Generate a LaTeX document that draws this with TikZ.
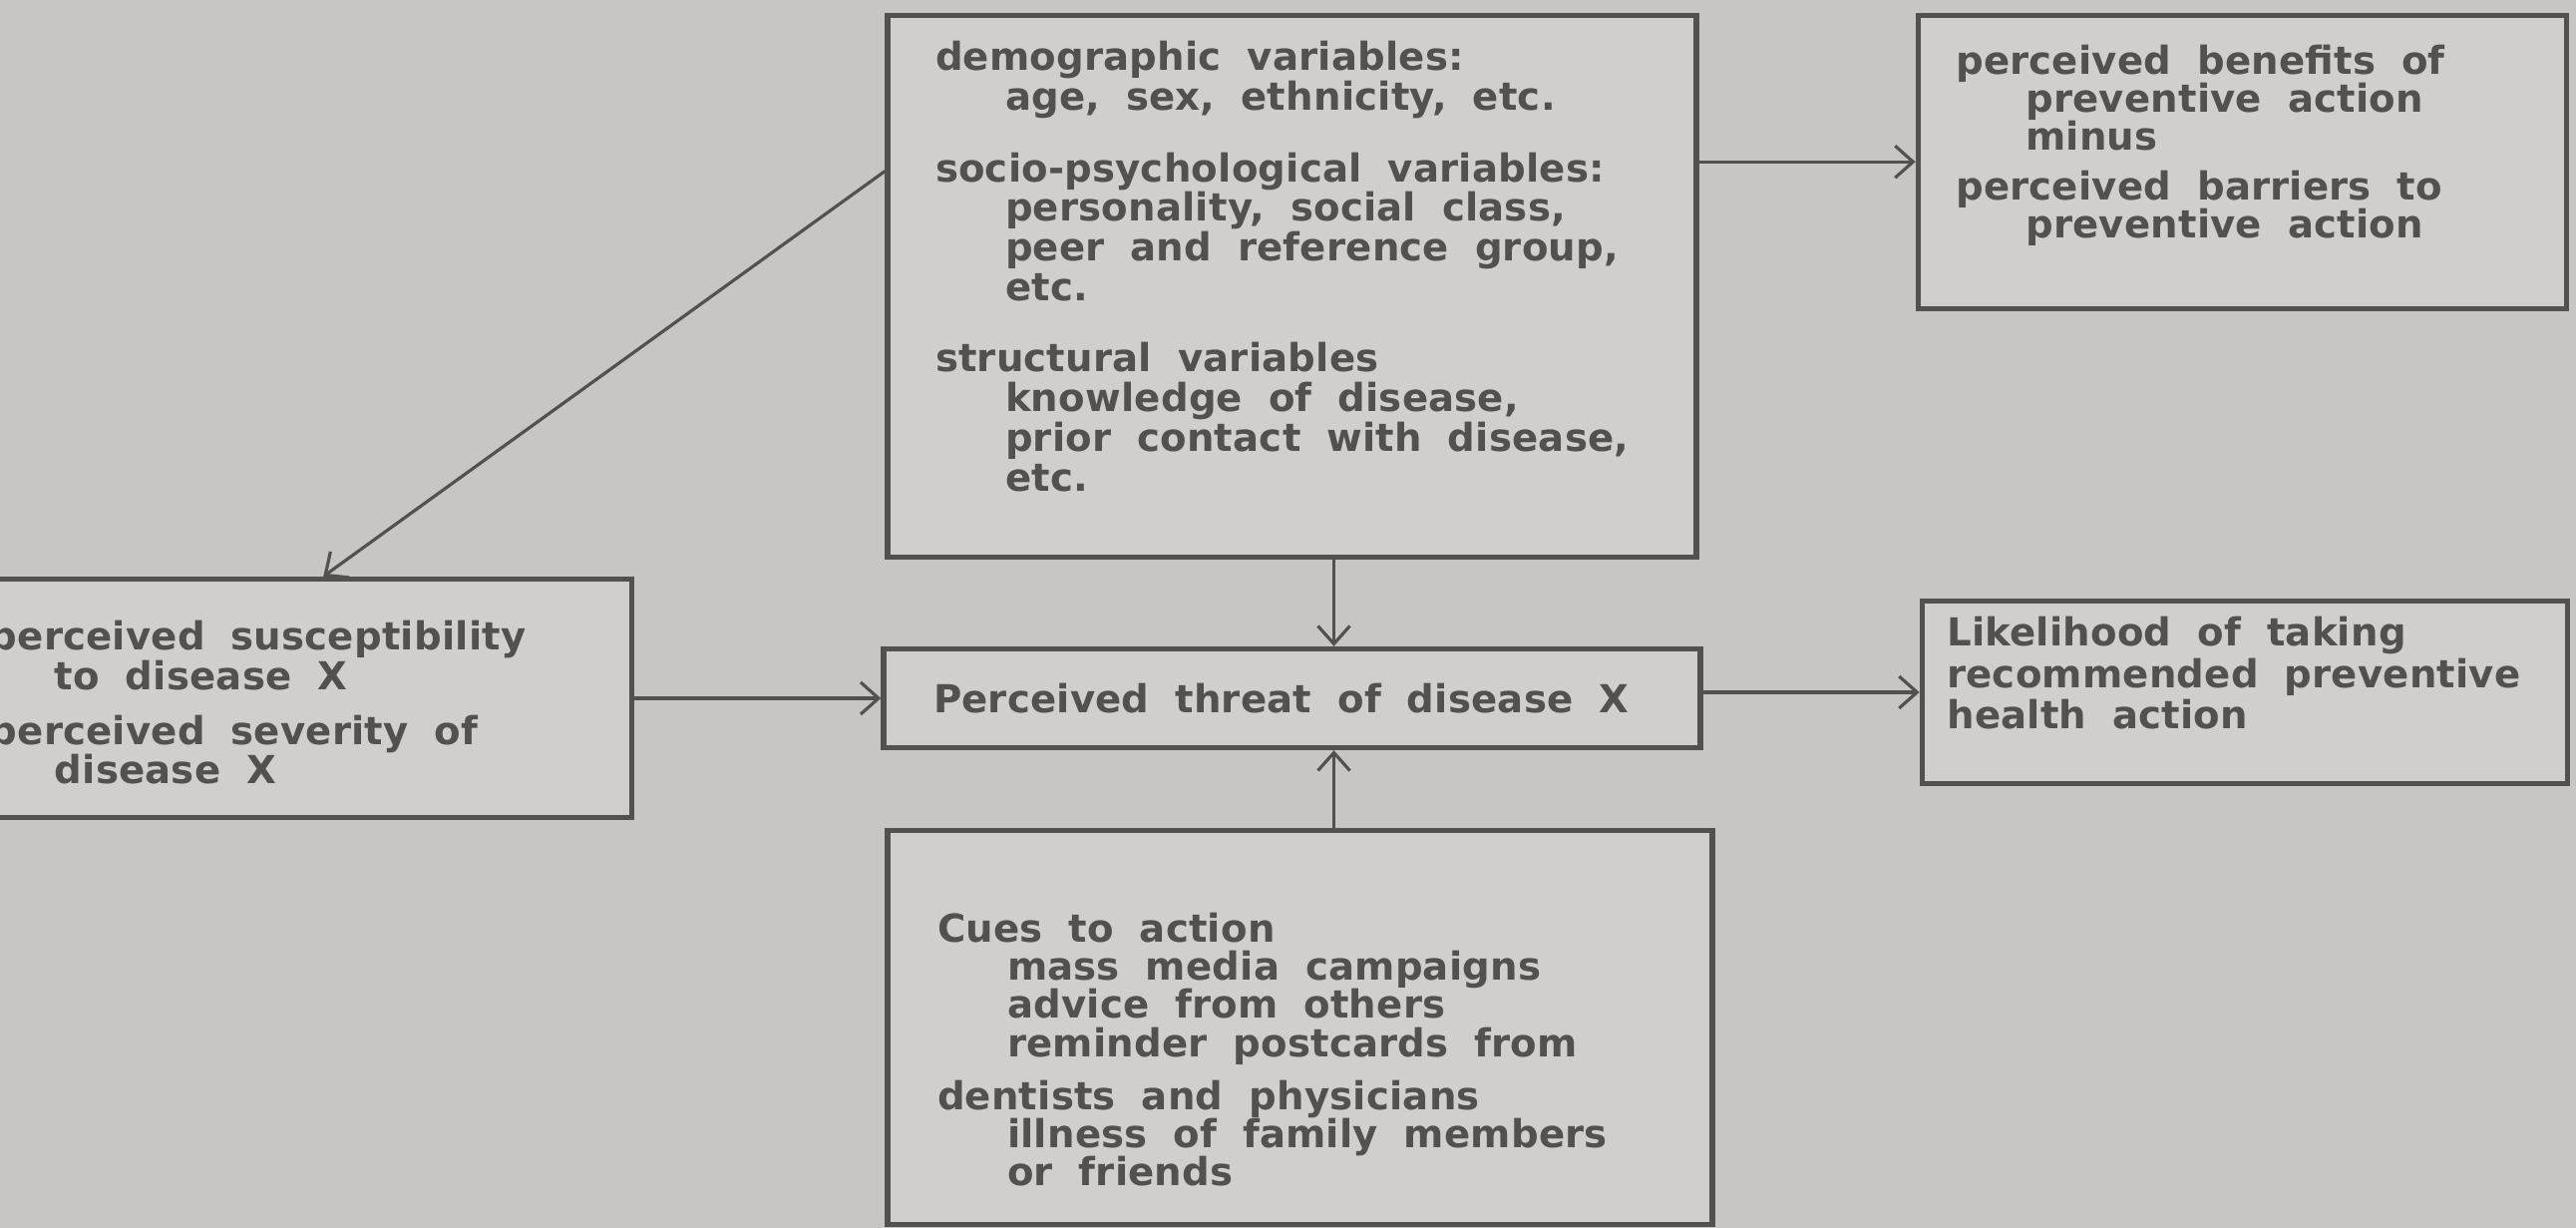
\documentclass[tikz,border=0pt]{standalone}
\usepackage{fontspec}
\setmainfont[LetterSpace=0.5, WordSpace=1.9]{DejaVu Sans}
\usetikzlibrary{positioning, arrows.meta, calc}
\usepackage{xcolor}
\definecolor{paper}{RGB}{199,198,196}
\definecolor{boxfill}{RGB}{208,207,205}
\definecolor{ink}{RGB}{84,80,80}
\tikzstyle{hbm} = [rectangle, draw=ink, line width=1.5pt, fill=boxfill, text=ink, align=left]
\tikzstyle{arrow} = [draw=ink, line width=0.9pt, -{Straight Barb[length=1.8mm, width=3.2mm]}]
\newcommand{\boxtxt}[3]{\parbox[c][#2][t]{#1}{\raggedright\hyphenpenalty=10000\exhyphenpenalty=10000 #3}}
\newcommand{\indt}{\hspace*{0.7cm}}

\begin{document}
\begin{tikzpicture}[font=\fontsize{11}{11.3}\selectfont\bfseries]
    \fill[paper] (0,0) rectangle (25.83,12.31);
    \useasboundingbox (0,0) rectangle (25.83,12.31);
    \clip (0,0) rectangle (25.83,12.31);

    % Middle column
    \node (threat) [hbm, minimum height=0.99cm, inner xsep=0.5cm, inner ysep=0pt] at (12.955,5.31) {\parbox{7.19cm}{\raggedright Perceived threat of disease X}};
    \node (demo) [hbm, inner xsep=0.48cm, inner ysep=0.26cm, above=0.87cm of threat] {\boxtxt{7.15cm}{4.91cm}{%
        demographic variables:\\
        \indt age, sex, ethnicity, etc.\\[0.32cm]
        socio-psychological variables:\\
        \indt personality, social class,\\
        \indt peer and reference group,\\
        \indt etc.\\[0.32cm]
        structural variables\\
        \indt knowledge of disease,\\
        \indt prior contact with disease,\\
        \indt etc.}};
    \node (cues) [hbm, inner xsep=0.5cm, inner ysep=0.82cm, below=0.78cm of threat, xshift=0.08cm] {\boxtxt{7.27cm}{2.31cm}{%
        \fontsize{11}{10.9}\selectfont
        Cues to action\\
        \indt mass media campaigns\\
        \indt advice from others\\
        \indt reminder postcards from\\[0.15cm]
        dentists and physicians\\
        \indt illness of family members\\
        \indt or friends}};

    % Left and right columns
    \node (susc) [hbm, inner xsep=0.4cm, inner ysep=0.42cm, left=2.47cm of threat] {\boxtxt{6.09cm}{1.55cm}{%
        \hspace*{0.05cm}perceived susceptibility\\
        \indt to disease X\\[0.15cm]
        \hspace*{0.05cm}perceived severity of\\
        \indt disease X}};
    \node (benefits) [hbm, inner xsep=0.38cm, inner ysep=0.30cm, right=2.17cm of demo.north east, anchor=north west] {\boxtxt{5.74cm}{2.34cm}{%
        \fontsize{11}{10.8}\selectfont
        perceived benefits of\\
        \indt preventive action\\
        \indt minus\\[0.12cm]
        perceived barriers to\\
        \indt preventive action}};
    \node (likely) [hbm, inner xsep=0.2cm, inner ysep=0.16cm, right=2.17cm of threat, yshift=0.06cm] {\boxtxt{6.07cm}{1.51cm}{%
        \fontsize{11}{9.8}\selectfont
        \hspace*{0.05cm}Likelihood of taking\\
        \hspace*{0.05cm}recommended preventive\\
        \hspace*{0.05cm}health action}};

    % Arrows
    \coordinate (demoleft) at ($(demo.north west)!0.29!(demo.south west)$);
    \draw [arrow] (demoleft) -- ([xshift=0.35cm]susc.north);
    \draw [arrow] (benefits.west -| demo.east) -- (benefits.west);
    \draw [arrow] (susc.east) -- (susc.east -| threat.west);
    \draw [arrow] ([xshift=0.42cm]demo.south) -- ([xshift=0.42cm]demo.south |- threat.north);
    \draw [arrow] ([xshift=0.42cm]demo.south |- cues.north) -- ([xshift=0.42cm]demo.south |- threat.south);
    \draw [arrow] (likely.west -| threat.east) -- (likely.west);
\end{tikzpicture}
\end{document}
